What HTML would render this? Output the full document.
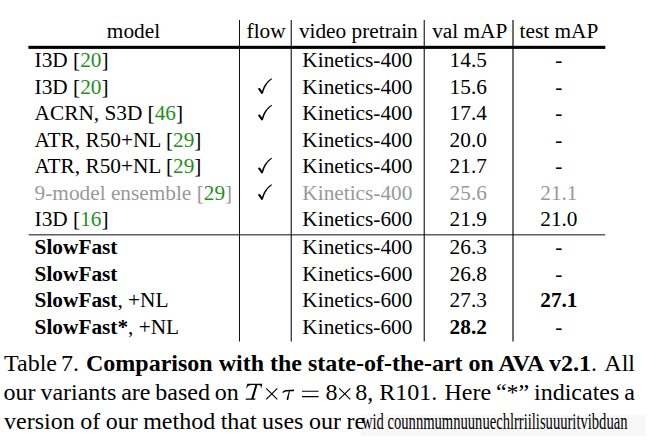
<!DOCTYPE html>
<html><head><meta charset="utf-8"><style>
html,body{margin:0;padding:0;background:#fff;}
body{width:652px;height:445px;overflow:hidden;position:relative;font-family:"Liberation Serif",serif;color:#000;}
.t{position:absolute;white-space:pre;font-size:21.3px;line-height:21.3px;}
.g{color:#1f8f1f;}
.gr{color:#999999;}
.gr .g{color:#1f8f1f;}
.cap{position:absolute;left:4px;white-space:pre;font-size:24px;line-height:24px;}
svg{position:absolute;left:0;top:0;}
.garble{display:inline-block;transform:scaleX(0.608);transform-origin:0 0;color:#000;}
</style></head><body>
<svg width="652" height="445" viewBox="0 0 652 445"><rect x="361" y="414.7" width="284.5" height="21.3" fill="#f8f8f8"/><rect x="28.4" y="45.8" width="576.9" height="3.1" fill="#000"/><rect x="28.6" y="234" width="576.6" height="1.5" fill="#5f5f5f"/><rect x="239" y="20" width="1" height="321.5" fill="#111"/><rect x="290.7" y="20" width="1.03" height="321.5" fill="#000"/><rect x="423.7" y="20" width="1.03" height="321.5" fill="#000"/><rect x="512.44" y="20" width="1.12" height="321.5" fill="#000"/><path transform="translate(0,0.0)" d="M258.0,88.9 C258.6,87.7 260.0,87.9 260.8,89.3 L262.0,91.2 C263.3,87.0 266.0,81.6 271.7,78.3 L272.1,78.9 C267.0,82.4 264.5,87.6 262.9,93.6 L261.5,94.0 Z" fill="#000"/><path transform="translate(0,26.5)" d="M258.0,88.9 C258.6,87.7 260.0,87.9 260.8,89.3 L262.0,91.2 C263.3,87.0 266.0,81.6 271.7,78.3 L272.1,78.9 C267.0,82.4 264.5,87.6 262.9,93.6 L261.5,94.0 Z" fill="#000"/><path transform="translate(0,79.5)" d="M258.0,88.9 C258.6,87.7 260.0,87.9 260.8,89.3 L262.0,91.2 C263.3,87.0 266.0,81.6 271.7,78.3 L272.1,78.9 C267.0,82.4 264.5,87.6 262.9,93.6 L261.5,94.0 Z" fill="#000"/><path transform="translate(0,106.0)" d="M258.0,88.9 C258.6,87.7 260.0,87.9 260.8,89.3 L262.0,91.2 C263.3,87.0 266.0,81.6 271.7,78.3 L272.1,78.9 C267.0,82.4 264.5,87.6 262.9,93.6 L261.5,94.0 Z" fill="#000"/><g stroke="#000" stroke-width="1.15" fill="none" stroke-linecap="butt"><path d="M266.2,388.4 L277.3,399.4 M277.3,388.4 L266.2,399.4"/><path d="M339.2,388.4 L350.3,399.4 M350.3,388.4 L339.2,399.4"/><path d="M302,391.2 H318.6 M302,396.6 H318.6"/></g><path d="M247.3,383.7 L262.3,383.7 L261.3,388.2 L260.9,388.2 C261.0,386.0 260.6,385.1 258.2,385.1 L257.4,385.1 L253.5,398.4 L255.4,398.4 L255.2,399.7 L245.6,399.7 L245.9,398.4 L251.3,398.4 L255.3,385.1 L251.8,385.1 C249.2,385.1 247.8,386.0 246.5,388.2 L246.1,388.2 Z" fill="#000"/><path d="M282.3,392.2 C283.5,390.4 284.6,389.9 286.5,389.9 L294.2,389.6 L294.0,391.2 L290.0,391.3 C289.2,394 288.8,396.5 288.6,398.5 C288.4,399.6 287.8,400.1 287.2,400.0 C286.7,399.9 286.6,399.3 286.8,398.6 C287.5,396.2 288.2,393.6 288.9,391.3 L286.8,391.4 C285.2,391.4 284.0,392.0 283.0,392.9 Z" fill="#000"/></svg>
<div class="t " style="left:27.9px;top:21.40px;width:211.1px;text-align:center">model</div>
<div class="t " style="left:240.5px;top:21.40px;width:51.19999999999999px;text-align:center">flow</div>
<div class="t " style="left:291.7px;top:21.40px;width:133.3px;text-align:center">video pretrain</div>
<div class="t " style="left:425.5px;top:21.40px;width:88.5px;text-align:center">val mAP</div>
<div class="t " style="left:512.5px;top:21.40px;width:92.79999999999995px;text-align:center">test mAP</div>
<div class="t " style="left:34.6px;top:50.40px">I3D [<span class="g">20</span>]</div>
<div class="t " style="left:290.7px;top:50.40px;width:133.3px;text-align:center">Kinetics-400</div>
<div class="t " style="left:424px;top:50.40px;width:88.5px;text-align:center">14.5</div>
<div class="t " style="left:512.5px;top:50.40px;width:92.79999999999995px;text-align:center">-</div>
<div class="t " style="left:34.6px;top:76.90px">I3D [<span class="g">20</span>]</div>
<div class="t " style="left:290.7px;top:76.90px;width:133.3px;text-align:center">Kinetics-400</div>
<div class="t " style="left:424px;top:76.90px;width:88.5px;text-align:center">15.6</div>
<div class="t " style="left:512.5px;top:76.90px;width:92.79999999999995px;text-align:center">-</div>
<div class="t " style="left:34.6px;top:103.40px">ACRN, S3D [<span class="g">46</span>]</div>
<div class="t " style="left:290.7px;top:103.40px;width:133.3px;text-align:center">Kinetics-400</div>
<div class="t " style="left:424px;top:103.40px;width:88.5px;text-align:center">17.4</div>
<div class="t " style="left:512.5px;top:103.40px;width:92.79999999999995px;text-align:center">-</div>
<div class="t " style="left:34.6px;top:129.90px">ATR, R50+NL [<span class="g">29</span>]</div>
<div class="t " style="left:290.7px;top:129.90px;width:133.3px;text-align:center">Kinetics-400</div>
<div class="t " style="left:424px;top:129.90px;width:88.5px;text-align:center">20.0</div>
<div class="t " style="left:512.5px;top:129.90px;width:92.79999999999995px;text-align:center">-</div>
<div class="t " style="left:34.6px;top:156.40px">ATR, R50+NL [<span class="g">29</span>]</div>
<div class="t " style="left:290.7px;top:156.40px;width:133.3px;text-align:center">Kinetics-400</div>
<div class="t " style="left:424px;top:156.40px;width:88.5px;text-align:center">21.7</div>
<div class="t " style="left:512.5px;top:156.40px;width:92.79999999999995px;text-align:center">-</div>
<div class="t gr" style="left:34.6px;top:182.90px">9-model ensemble [<span class="g">29</span>]</div>
<div class="t gr" style="left:290.7px;top:182.90px;width:133.3px;text-align:center">Kinetics-400</div>
<div class="t gr" style="left:424px;top:182.90px;width:88.5px;text-align:center">25.6</div>
<div class="t gr" style="left:512.5px;top:182.90px;width:92.79999999999995px;text-align:center">21.1</div>
<div class="t " style="left:34.6px;top:209.40px">I3D [<span class="g">16</span>]</div>
<div class="t " style="left:290.7px;top:209.40px;width:133.3px;text-align:center">Kinetics-600</div>
<div class="t " style="left:424px;top:209.40px;width:88.5px;text-align:center">21.9</div>
<div class="t " style="left:512.5px;top:209.40px;width:92.79999999999995px;text-align:center">21.0</div>
<div class="t " style="left:34.6px;top:237.40px"><b>SlowFast</b></div>
<div class="t " style="left:290.7px;top:237.40px;width:133.3px;text-align:center">Kinetics-400</div>
<div class="t " style="left:424px;top:237.40px;width:88.5px;text-align:center">26.3</div>
<div class="t " style="left:512.5px;top:237.40px;width:92.79999999999995px;text-align:center">-</div>
<div class="t " style="left:34.6px;top:263.90px"><b>SlowFast</b></div>
<div class="t " style="left:290.7px;top:263.90px;width:133.3px;text-align:center">Kinetics-600</div>
<div class="t " style="left:424px;top:263.90px;width:88.5px;text-align:center">26.8</div>
<div class="t " style="left:512.5px;top:263.90px;width:92.79999999999995px;text-align:center">-</div>
<div class="t " style="left:34.6px;top:290.40px"><b>SlowFast</b>, +NL</div>
<div class="t " style="left:290.7px;top:290.40px;width:133.3px;text-align:center">Kinetics-600</div>
<div class="t " style="left:424px;top:290.40px;width:88.5px;text-align:center">27.3</div>
<div class="t " style="left:512.5px;top:290.40px;width:92.79999999999995px;text-align:center"><b>27.1</b></div>
<div class="t " style="left:34.6px;top:316.90px"><b>SlowFast*</b>, +NL</div>
<div class="t " style="left:290.7px;top:316.90px;width:133.3px;text-align:center">Kinetics-600</div>
<div class="t " style="left:424px;top:316.90px;width:88.5px;text-align:center"><b>28.2</b></div>
<div class="t " style="left:512.5px;top:316.90px;width:92.79999999999995px;text-align:center">-</div>
<div class="cap" style="left:4px;top:350.70px;">Table</div>
<div class="cap" style="left:61px;top:350.70px;">7.</div>
<div class="cap" style="left:86px;top:350.70px;"><b>Comparison with the state-of-the-art on AVA v2.1</b>.</div>
<div class="cap" style="left:604.3px;top:350.70px;">All</div>
<div class="cap" style="left:3.6px;top:379.50px;word-spacing:-1.2px">our variants are based on</div>
<div class="cap" style="left:355.2px;top:379.50px;">8, R101.</div>
<div class="cap" style="left:325.6px;top:379.50px;">8</div>
<div class="cap" style="left:444.5px;top:379.50px;word-spacing:-1.2px">Here &#8220;*&#8221; indicates a</div>
<div class="cap" style="left:4px;top:408.50px;word-spacing:-0.5px">version of our method that uses our re</div>
<div class="cap" style="left:362px;top:408.50px;"><span class="garble">wid counnmumnuunuechlrriilisuuuritvibduan</span></div>
</body></html>
